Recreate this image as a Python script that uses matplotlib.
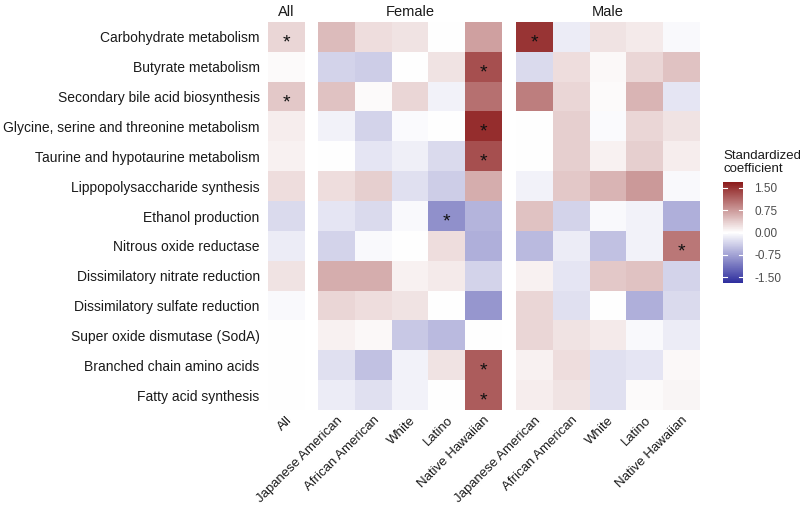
import matplotlib

matplotlib.use("Agg")

import matplotlib.pyplot as plt
import numpy as np
from matplotlib.colors import LinearSegmentedColormap, Normalize
from matplotlib.colorbar import ColorbarBase

plt.rcParams["font.family"] = ["Liberation Sans", "DejaVu Sans"]

pathways = [
    "Carbohydrate metabolism",
    "Butyrate metabolism",
    "Secondary bile acid biosynthesis",
    "Glycine, serine and threonine metabolism",
    "Taurine and hypotaurine metabolism",
    "Lippopolysaccharide synthesis",
    "Ethanol production",
    "Nitrous oxide reductase",
    "Dissimilatory nitrate reduction",
    "Dissimilatory sulfate reduction",
    "Super oxide dismutase (SodA)",
    "Branched chain amino acids",
    "Fatty acid synthesis",
]
ethnicities = ["Japanese American", "African American", "White", "Latino", "Native Hawaiian"]

all_coef = [0.30, 0.03, 0.40, 0.12, 0.10, 0.25, -0.30, -0.15, 0.20, -0.05, 0.0, 0.0, 0.0]

female_coef = [
    [0.50, 0.25, 0.20, 0.00, 0.70],
    [-0.35, -0.40, 0.00, 0.20, 1.30],
    [0.45, 0.03, 0.30, -0.10, 1.05],
    [-0.10, -0.35, -0.03, 0.00, 1.55],
    [0.00, -0.20, -0.12, -0.30, 1.30],
    [0.25, 0.35, -0.25, -0.40, 0.60],
    [-0.20, -0.30, -0.05, -0.90, -0.60],
    [-0.35, -0.05, 0.00, 0.25, -0.65],
    [0.60, 0.60, 0.10, 0.15, -0.35],
    [0.30, 0.25, 0.20, 0.00, -0.85],
    [0.10, 0.05, -0.45, -0.55, 0.00],
    [-0.25, -0.50, -0.10, 0.20, 1.20],
    [-0.15, -0.25, -0.10, 0.00, 1.20],
]

male_coef = [
    [1.50, -0.15, 0.20, 0.15, -0.05],
    [-0.30, 0.25, 0.05, 0.30, 0.45],
    [0.95, 0.30, 0.03, 0.55, -0.20],
    [0.00, 0.35, -0.03, 0.30, 0.20],
    [0.00, 0.35, 0.10, 0.35, 0.12],
    [-0.10, 0.40, 0.55, 0.75, -0.05],
    [0.45, -0.35, -0.05, -0.10, -0.65],
    [-0.55, -0.15, -0.50, -0.10, 1.00],
    [0.10, -0.20, 0.40, 0.45, -0.35],
    [0.30, -0.25, 0.00, -0.65, -0.30],
    [0.30, 0.20, 0.15, -0.05, -0.15],
    [0.10, 0.25, -0.25, -0.20, 0.05],
    [0.12, 0.20, -0.25, 0.03, 0.07],
]

# significant cells: (row, column)
all_sig = [(0, 0), (2, 0)]
female_sig = [(1, 4), (3, 4), (4, 4), (6, 3), (11, 4), (12, 4)]
male_sig = [(0, 0), (7, 4)]

cbar_ticks = [1.5, 0.75, 0.0, -0.75, -1.5]

cmap = LinearSegmentedColormap.from_list("coef", ["#2e2e9e", "#ffffff", "#8b1a1a"])
norm = Normalize(vmin=-1.7, vmax=1.7)

fig = plt.figure(figsize=(8, 5.11), dpi=100)
top, bottom = 1 - 22 / 511, 1 - 410 / 511
panels = [
    ("All", np.array(all_coef).reshape(-1, 1), ["All"], all_sig, 268),
    ("Female", np.array(female_coef), ethnicities, female_sig, 318),
    ("Male", np.array(male_coef), ethnicities, male_sig, 516),
]

for i, (title, data, labels, sig, x0) in enumerate(panels):
    ncol = data.shape[1]
    ax = fig.add_axes([x0 / 800, bottom, ncol * 36.8 / 800, top - bottom])
    ax.imshow(data, cmap=cmap, norm=norm, aspect="auto", interpolation="nearest")
    for r, c in sig:
        ax.text(c, r + 0.2, "*", ha="center", va="center", fontsize=14, color="#111111")
    ax.set_title(title, fontsize=10.5, color="#1a1a1a", pad=4)
    ax.set_xticks(range(ncol))
    ax.set_xticklabels(labels, rotation=45, ha="right", rotation_mode="anchor",
                       fontsize=9.5, color="#1a1a1a")
    ax.set_yticks(range(len(pathways)))
    if i == 0:
        ax.set_yticklabels(pathways, fontsize=10, color="#1a1a1a")
    else:
        ax.set_yticklabels([])
    ax.tick_params(axis="y", length=0, pad=6)
    ax.tick_params(axis="x", length=0, pad=3)
    for spine in ax.spines.values():
        spine.set_visible(False)

cax = fig.add_axes([723 / 800, 1 - 283 / 511, 20 / 800, 101 / 511])
cb = ColorbarBase(cax, cmap=cmap, norm=norm, ticks=cbar_ticks)
cb.outline.set_visible(False)
cb.ax.set_yticklabels([f"{t:.2f}" for t in cbar_ticks], fontsize=8.5, color="#4d4d4d")
cb.ax.tick_params(length=0, pad=8)
for t in cbar_ticks:
    cax.axhline(t, xmin=0, xmax=0.2, color="white", lw=0.8)
    cax.axhline(t, xmin=0.8, xmax=1, color="white", lw=0.8)
fig.text(723 / 800, 1 - 175 / 511, "Standardized\ncoefficient", fontsize=9.5,
         color="#1a1a1a", va="bottom", ha="left", linespacing=1.1)

fig.savefig("out.png", dpi=100)
